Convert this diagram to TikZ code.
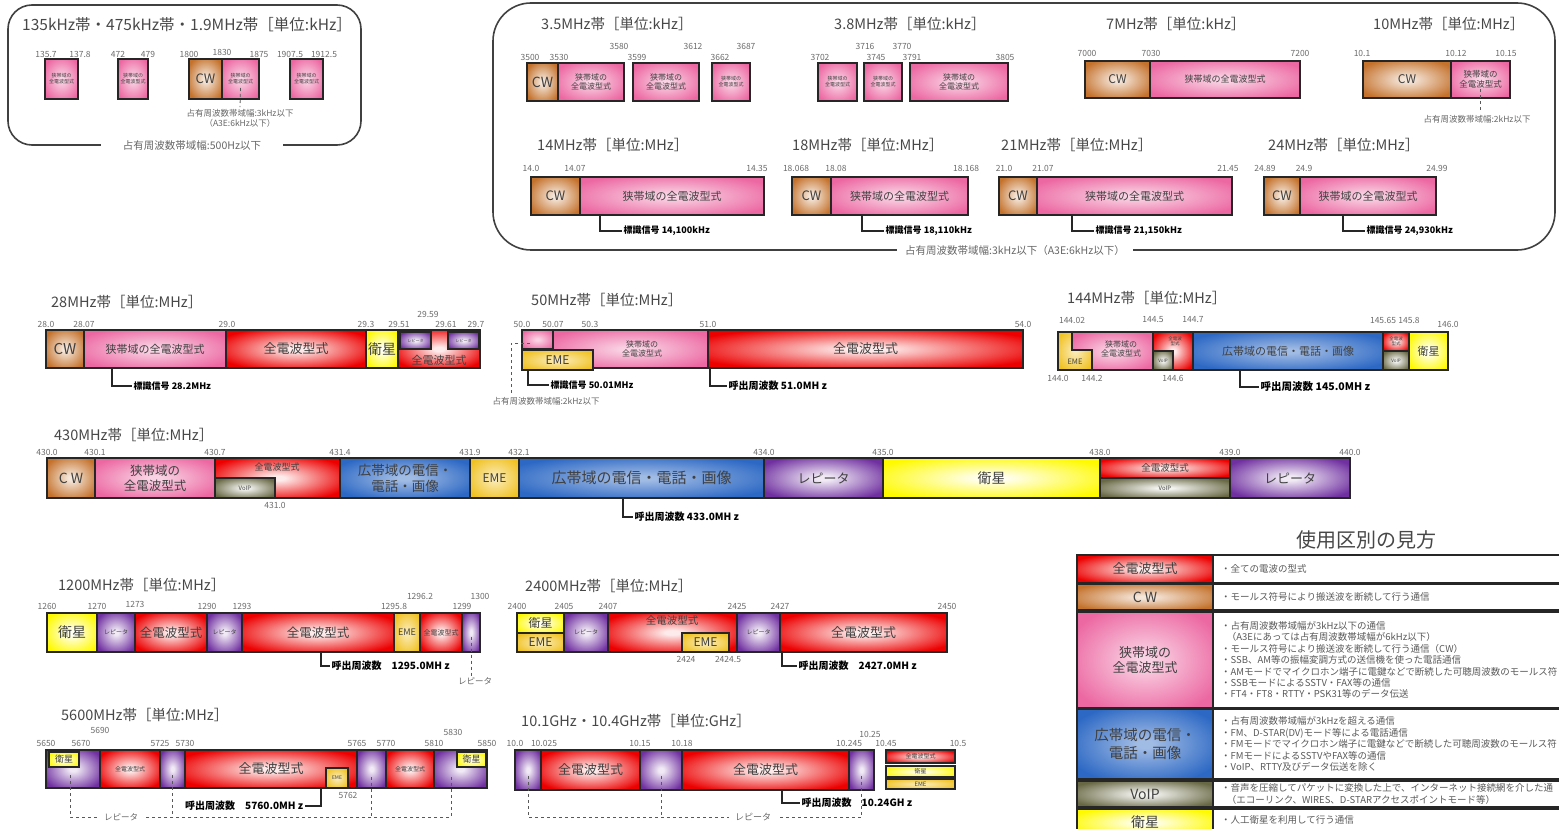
\documentclass[tikz,border=0pt]{standalone}
\usepackage{fontspec}
\setmainfont{Noto Sans CJK JP}
\usepackage{tikz}
\usetikzlibrary{
  positioning,
}
\definecolor{zen}{RGB}{236,0,0}
\definecolor{cwc}{RGB}{196,114,44}
\definecolor{nar}{RGB}{236,104,162}
\definecolor{wide}{RGB}{44,104,196}
\definecolor{rep}{RGB}{112,48,160}
\definecolor{sat}{RGB}{255,250,0}
\definecolor{eme}{RGB}{240,194,34}
\definecolor{voip}{RGB}{104,104,68}
\colorlet{zenin}{zen!8!white}
\colorlet{cwcin}{cwc!18!white}
\colorlet{narin}{nar!30!white}
\colorlet{widein}{wide!45!white}
\colorlet{repin}{rep!10!white}
\colorlet{satin}{sat!5!white}
\colorlet{emein}{eme!35!white}
\colorlet{voipin}{voip!8!white}
\makeatletter
\pgfdeclareradialshading[tikz@radial@inner,tikz@radial@outer]{glow}{\pgfpointorigin}{%
  color(0bp)=(tikz@radial@inner);
  color(3bp)=(tikz@radial@inner);
  color(30bp)=(tikz@radial@outer);
  color(50bp)=(tikz@radial@outer)}
\makeatother
\newcommand{\fs}[1]{\fontsize{#1}{\dimexpr #1pt*6/5\relax}\selectfont}
\tikzset{
  band/.style = {
    draw = black!85,
    line width = 1.1pt,
    inner color = #1in,
    outer color = #1,
    shading = glow,
    inner sep = 0pt,
    outer sep = 0pt,
    align = center,
    text = black!75
  },
  btxt/.style = {
    align = center,
    text = black!75,
    inner sep = 0pt
  },
  freq/.style = {
    font = \fs{8.5},
    text = black!58,
    inner sep = 0pt
  },
  ttl/.style = {
    font = \fs{14.5},
    text = black!72,
    anchor = west,
    inner sep = 0pt
  },
  memo/.style = {
    font = \bfseries\fs{10},
    anchor = west,
    inner sep = 1.5pt
  },
  note/.style = {
    font = \fs{8.5},
    text = black!60,
    align = center,
    inner sep = 1.5pt
  },
  ltxt/.style = {
    font = \fs{9.5},
    text = black!65,
    align = left,
    inner sep = 0pt
  },
  grp/.style = {
    draw = black!75,
    line width = 1.6pt,
    rounded corners = #1
  },
  con/.style = {
    draw = black!85,
    line width = 1.8pt
  },
  dline/.style = {
    draw = black!65,
    dashed,
    line width = .8pt
  },
  lrule/.style = {
    draw = black!85,
    line width = 1.4pt
  }
}
\newcommand{\band}[8][]{
  \node[band = #2, minimum width = #5-#3, minimum height = #6-#4,
    anchor = north west, #1] (#7) at (#3,#4) {#8};
}
\newcommand{\callout}[3]{
  \draw[con] ([xshift = #2pt]#1.south) |- (#3.west);
}

\begin{document}
\begin{tikzpicture}[x = 1pt, y = -1pt]
  \useasboundingbox (0,0) rectangle (1559,829);

  % 135kHz帯・475kHz帯・1.9MHz帯.
  \draw[grp = 24pt] (8,5) rectangle (361,145);
  \node[note, font = \fs{10.5}, fill = white, inner xsep = 22pt] (N1) at (192,146) {占有周波数帯域幅:500Hz以下};
  \node[ttl, font = \fs{15.5}] (T1) at (22,25) {135kHz帯・475kHz帯・1.9MHz帯［単位:kHz］};
  \band[font = \fs{5}]{nar}{45}{59}{78}{99}{B1}{狭帯域の\\全電波型式}
  \band[font = \fs{5}]{nar}{118}{59}{148}{99}{B2}{狭帯域の\\全電波型式}
  \band[font = \fs{13}]{cwc}{189}{59}{222}{99}{B3}{CW}
  \band[font = \fs{5}]{nar}{222}{59}{259}{99}{B4}{狭帯域の\\全電波型式}
  \band[font = \fs{5}]{nar}{290}{59}{323}{99}{B5}{狭帯域の\\全電波型式}
  \node[freq] (q1) at (46,54) {135.7};
  \node[freq] (q2) at (80,54) {137.8};
  \node[freq] (q3) at (118,54) {472};
  \node[freq] (q4) at (148,54) {479};
  \node[freq] (q5) at (189,54) {1800};
  \node[freq] (q6) at (222,52) {1830};
  \node[freq] (q7) at (259,54) {1875};
  \node[freq] (q8) at (290,54) {1907.5};
  \node[freq] (q9) at (324,54) {1912.5};
  \node[note] (N2) at (240,118) {占有周波数帯域幅:3kHz以下\\（A3E:6kHz以下）};
  \draw[dline] ([yshift = -9pt]B4.center) -- (N2.north);

  % 3.5MHz帯〜24MHz帯.
  \draw[grp = 38pt] (493,3) rectangle (1555,250);
  \node[note, font = \fs{10.5}, fill = white, inner xsep = 8pt] (N5) at (1015,251) {占有周波数帯域幅:3kHz以下（A3E:6kHz以下）};
  \node[ttl] (T2) at (541,24) {3.5MHz帯［単位:kHz］};
  \node[ttl] (T3) at (834,24) {3.8MHz帯［単位:kHz］};
  \node[ttl] (T4) at (1106,24) {7MHz帯［単位:kHz］};
  \node[ttl] (T5) at (1373,24) {10MHz帯［単位:MHz］};
  \band[font = \fs{14}]{cwc}{527}{63}{558}{101}{A1}{CW}
  \band[font = \fs{8}]{nar}{558}{63}{624}{101}{A2}{狭帯域の\\全電波型式}
  \band[font = \fs{8}]{nar}{633}{63}{699}{101}{A3}{狭帯域の\\全電波型式}
  \band[font = \fs{5}]{nar}{712}{63}{750}{101}{A4}{狭帯域の\\全電波型式}
  \band[font = \fs{5}]{nar}{818}{63}{857}{101}{A5}{狭帯域の\\全電波型式}
  \band[font = \fs{5}]{nar}{864}{63}{902}{101}{A6}{狭帯域の\\全電波型式}
  \band[font = \fs{8}]{nar}{910}{63}{1008}{101}{A7}{狭帯域の\\全電波型式}
  \band[font = \fs{12}]{cwc}{1085}{61}{1150}{98}{A8}{CW}
  \band[font = \fs{9}]{nar}{1150}{61}{1300}{98}{A9}{狭帯域の全電波型式}
  \band[font = \fs{12}]{cwc}{1363}{61}{1451}{98}{A10}{CW}
  \band[font = \fs{8.5}]{nar}{1451}{61}{1510}{98}{A11}{狭帯域の\\全電波型式}
  \node[freq] (q10) at (530,57) {3500};
  \node[freq] (q11) at (559,57) {3530};
  \node[freq] (q12) at (619,46) {3580};
  \node[freq] (q13) at (637,57) {3599};
  \node[freq] (q14) at (693,46) {3612};
  \node[freq] (q15) at (720,57) {3662};
  \node[freq] (q16) at (746,46) {3687};
  \node[freq] (q17) at (820,57) {3702};
  \node[freq] (q18) at (865,46) {3716};
  \node[freq] (q19) at (876,57) {3745};
  \node[freq] (q20) at (902,46) {3770};
  \node[freq] (q21) at (912,57) {3791};
  \node[freq] (q22) at (1005,57) {3805};
  \node[freq] (q23) at (1087,53) {7000};
  \node[freq] (q24) at (1151,53) {7030};
  \node[freq] (q25) at (1300,53) {7200};
  \node[freq] (q26) at (1362,53) {10.1};
  \node[freq] (q27) at (1456,53) {10.12};
  \node[freq] (q28) at (1506,53) {10.15};
  \node[note] (N3) at (1477,119) {占有周波数帯域幅:2kHz以下};
  \draw[dline] ([yshift = -10pt]A11.center) -- (A11.center |- N3.north);

  \node[ttl] (T6) at (537,145) {14MHz帯［単位:MHz］};
  \node[ttl] (T7) at (792,145) {18MHz帯［単位:MHz］};
  \node[ttl] (T8) at (1001,145) {21MHz帯［単位:MHz］};
  \node[ttl] (T9) at (1268,145) {24MHz帯［単位:MHz］};
  \band[font = \fs{13}]{cwc}{531}{177}{580}{215}{D1}{CW}
  \band[font = \fs{11}]{nar}{580}{177}{764}{215}{D2}{狭帯域の全電波型式}
  \band[font = \fs{13}]{cwc}{792}{177}{831}{215}{D3}{CW}
  \band[font = \fs{11}]{nar}{831}{177}{968}{215}{D4}{狭帯域の全電波型式}
  \band[font = \fs{13}]{cwc}{999}{177}{1037}{215}{D5}{CW}
  \band[font = \fs{11}]{nar}{1037}{177}{1232}{215}{D6}{狭帯域の全電波型式}
  \band[font = \fs{13}]{cwc}{1264}{177}{1300}{215}{D7}{CW}
  \band[font = \fs{11}]{nar}{1300}{177}{1436}{215}{D8}{狭帯域の全電波型式}
  \node[freq] (q29) at (531,168) {14.0};
  \node[freq] (q30) at (575,168) {14.07};
  \node[freq] (q31) at (757,168) {14.35};
  \node[freq] (q32) at (796,168) {18.068};
  \node[freq] (q33) at (836,168) {18.08};
  \node[freq] (q34) at (966,168) {18.168};
  \node[freq] (q35) at (1004,168) {21.0};
  \node[freq] (q36) at (1043,168) {21.07};
  \node[freq] (q37) at (1228,168) {21.45};
  \node[freq] (q38) at (1265,168) {24.89};
  \node[freq] (q39) at (1304,168) {24.9};
  \node[freq] (q40) at (1437,168) {24.99};
  \node[memo, font = \bfseries\fs{9}] (C1) at (622,231) {標識信号 14,100kHz};
  \node[memo, font = \bfseries\fs{9}] (C2) at (884,231) {標識信号 18,110kHz};
  \node[memo, font = \bfseries\fs{9}] (C3) at (1094,231) {標識信号 21,150kHz};
  \node[memo, font = \bfseries\fs{9}] (C4) at (1365,231) {標識信号 24,930kHz};
  \callout{D2}{-72}{C1}
  \callout{D4}{-37.5}{C2}
  \callout{D6}{-62.5}{C3}
  \callout{D8}{-25}{C4}

  % 28MHz帯.
  \node[ttl] (T10) at (51,302) {28MHz帯［単位:MHz］};
  \band[font = \fs{15}]{cwc}{46}{330}{84}{368}{E1}{CW}
  \band[font = \fs{11}]{nar}{84}{330}{226}{368}{E2}{狭帯域の全電波型式}
  \band[font = \fs{13}]{zen}{226}{330}{366}{368}{E3}{全電波型式}
  \band[font = \fs{14}]{sat}{366}{330}{398}{368}{E4}{衛星}
  \band{zen}{398}{330}{480}{368}{E5}{}
  \node[btxt, font = \fs{11}] (E5t) at (439,360) {全電波型式};
  \band[font = \fs{4}]{rep}{400}{332}{431}{349}{E6}{レピータ}
  \band[font = \fs{4}]{rep}{448}{332}{479}{349}{E7}{レピータ}
  \node[freq] (q41) at (46,324) {28.0};
  \node[freq] (q42) at (84,324) {28.07};
  \node[freq] (q43) at (227,324) {29.0};
  \node[freq] (q44) at (366,324) {29.3};
  \node[freq] (q45) at (399,324) {29.51};
  \node[freq] (q46) at (428,314) {29.59};
  \node[freq] (q47) at (446,324) {29.61};
  \node[freq] (q48) at (476,324) {29.7};
  \node[memo, font = \bfseries\fs{9}] (C5) at (132,386) {標識信号 28.2MHz};
  \callout{E2}{-43}{C5}

  % 50MHz帯.
  \node[ttl] (T11) at (531,300) {50MHz帯［単位:MHz］};
  \band{nar}{522}{330}{553}{349}{F1}{}
  \band{nar}{553}{330}{708}{368}{F2}{}
  \node[btxt, font = \fs{8}] (F2t) at (642,349) {狭帯域の\\全電波型式};
  \band[font = \fs{12}]{eme}{522}{350}{593}{370}{F3}{EME}
  \band[font = \fs{13}]{zen}{708}{330}{1023}{368}{F4}{全電波型式}
  \node[freq] (q49) at (522,324) {50.0};
  \node[freq] (q50) at (553,324) {50.07};
  \node[freq] (q51) at (590,324) {50.3};
  \node[freq] (q52) at (708,324) {51.0};
  \node[freq] (q53) at (1023,324) {54.0};
  \node[memo, font = \bfseries\fs{9}] (C6) at (549,385) {標識信号 50.01MHz};
  \node[memo] (C7) at (727,386) {呼出周波数 51.0MH z};
  \callout{F3}{-29.5}{C6}
  \callout{F4}{-155.5}{C7}
  \node[note] (N4) at (546,401) {占有周波数帯域幅:2kHz以下};
  \draw[dline] ([xshift = -7.5pt, yshift = -3.5pt]F1.center) -| ([xshift = -35pt]N4.north);

  % 144MHz帯.
  \node[ttl] (T12) at (1067,298) {144MHz帯［単位:MHz］};
  \draw[band = eme] (1058,332) -- (1072,332) -- (1072,350) -- (1092,350) -- (1092,370) -- (1058,370) -- cycle;
  \draw[band = nar] (1072,332) -- (1153,332) -- (1153,370) -- (1092,370) -- (1092,350) -- (1072,350) -- cycle;
  \node[btxt, font = \fs{7.5}] (G1t) at (1075,362) {EME};
  \node[btxt, font = \fs{8}] (G2t) at (1121,349) {狭帯域の\\全電波型式};
  \band{zen}{1153}{332}{1193}{370}{G3}{}
  \node[btxt, font = \fs{4.5}] (G3t) at (1175,341) {全電波\\型式};
  \band[font = \fs{4.5}]{voip}{1153}{351}{1173}{370}{G4}{VoIP}
  \band[font = \fs{11}]{wide}{1193}{332}{1383}{370}{G5}{広帯域の電信・電話・画像}
  \band[font = \fs{4.5}]{zen}{1383}{332}{1409}{351}{G6}{全電波\\型式}
  \band[font = \fs{4.5}]{voip}{1383}{351}{1409}{370}{G7}{VoIP}
  \band[font = \fs{11}]{sat}{1409}{332}{1448}{370}{G8}{衛星}
  \node[freq] (q54) at (1072,320) {144.02};
  \node[freq] (q55) at (1153,320) {144.5};
  \node[freq] (q56) at (1193,320) {144.7};
  \node[freq] (q57) at (1383,320) {145.65};
  \node[freq] (q58) at (1409,320) {145.8};
  \node[freq] (q59) at (1448,324) {146.0};
  \node[freq] (q60) at (1058,378) {144.0};
  \node[freq] (q61) at (1092,378) {144.2};
  \node[freq] (q62) at (1173,378) {144.6};
  \node[memo, font = \bfseries\fs{10.5}] (C8) at (1259,387) {呼出周波数 145.0MH z};
  \callout{G5}{-48}{C8}

  % 430MHz帯.
  \node[ttl] (T13) at (54,435) {430MHz帯［単位:MHz］};
  \band[font = \fs{14}]{cwc}{47}{458}{95}{498}{H1}{C W}
  \band[font = \fs{12.5}]{nar}{95}{458}{215}{498}{H2}{狭帯域の\\全電波型式}
  \band{zen}{215}{458}{340}{498}{H3}{}
  \node[btxt, font = \fs{9}] (H3t) at (277,467) {全電波型式};
  \band[font = \fs{6}]{voip}{215}{478}{275}{498}{H4}{VoIP}
  \band[font = \fs{13.5}]{wide}{340}{458}{470}{498}{H5}{広帯域の電信・\\電話・画像}
  \band[font = \fs{12}]{eme}{470}{458}{519}{498}{H6}{EME}
  \band[font = \fs{15}]{wide}{519}{458}{764}{498}{H7}{広帯域の電信・電話・画像}
  \band[font = \fs{13}]{rep}{764}{458}{883}{498}{H8}{レピータ}
  \band[font = \fs{14}]{sat}{883}{458}{1100}{498}{H9}{衛星}
  \band[font = \fs{9.5}]{zen}{1100}{458}{1230}{478}{H10}{全電波型式}
  \band[font = \fs{6}]{voip}{1100}{478}{1230}{498}{H11}{VoIP}
  \band[font = \fs{13}]{rep}{1230}{458}{1350}{498}{H12}{レピータ}
  \node[freq] (q63) at (47,452) {430.0};
  \node[freq] (q64) at (95,452) {430.1};
  \node[freq] (q65) at (215,452) {430.7};
  \node[freq] (q66) at (340,452) {431.4};
  \node[freq] (q67) at (470,452) {431.9};
  \node[freq] (q68) at (519,452) {432.1};
  \node[freq] (q69) at (764,452) {434.0};
  \node[freq] (q70) at (883,452) {435.0};
  \node[freq] (q71) at (1100,452) {438.0};
  \node[freq] (q72) at (1230,452) {439.0};
  \node[freq] (q73) at (1350,452) {440.0};
  \node[freq] (q74) at (275,505) {431.0};
  \node[memo] (C9) at (633,517) {呼出周波数 433.0MH z};
  \callout{H7}{-18.5}{C9}

  % 1200MHz帯.
  \node[ttl] (T14) at (58,585) {1200MHz帯［単位:MHz］};
  \band[font = \fs{14}]{sat}{47}{613}{97}{652}{I1}{衛星}
  \band[font = \fs{6}]{rep}{97}{613}{135}{652}{I2}{レピータ}
  \band[font = \fs{12.5}]{zen}{135}{613}{207}{652}{I3}{全電波型式}
  \band[font = \fs{6}]{rep}{207}{613}{242}{652}{I4}{レピータ}
  \band[font = \fs{12.5}]{zen}{242}{613}{394}{652}{I5}{全電波型式}
  \band[font = \fs{9}]{eme}{394}{613}{420}{652}{I6}{EME}
  \band[font = \fs{7}]{zen}{420}{613}{462}{652}{I7}{全電波型式}
  \band{rep}{462}{613}{480}{652}{I8}{}
  \node[freq] (q75) at (47,606) {1260};
  \node[freq] (q76) at (97,606) {1270};
  \node[freq] (q77) at (135,604) {1273};
  \node[freq] (q78) at (207,606) {1290};
  \node[freq] (q79) at (242,606) {1293};
  \node[freq] (q80) at (394,606) {1295.8};
  \node[freq] (q81) at (420,596) {1296.2};
  \node[freq] (q82) at (462,606) {1299};
  \node[freq] (q83) at (480,596) {1300};
  \node[memo] (C10) at (330,666) {呼出周波数　1295.0MH z};
  \callout{I5}{3}{C10}
  \node[note] (R1) at (475,681) {レピータ};
  \draw[dline] ([yshift = -4pt]I8.center) -- (I8.center |- R1.north);

  % 2400MHz帯.
  \node[ttl] (T15) at (525,586) {2400MHz帯［単位:MHz］};
  \band[font = \fs{12}]{sat}{517}{613}{564}{633}{J1}{衛星}
  \band[font = \fs{12}]{eme}{517}{633}{564}{652}{J2}{EME}
  \band[font = \fs{6}]{rep}{564}{613}{608}{652}{J3}{レピータ}
  \band{zen}{608}{613}{737}{652}{J4}{}
  \node[btxt, font = \fs{10.5}] (J4t) at (672,621) {全電波型式};
  \band[font = \fs{12}]{eme}{682}{633}{729}{652}{J5}{EME}
  \band[font = \fs{6}]{rep}{737}{613}{780}{652}{J6}{レピータ}
  \band[font = \fs{13}]{zen}{780}{613}{947}{652}{J7}{全電波型式}
  \node[freq] (q84) at (517,606) {2400};
  \node[freq] (q85) at (564,606) {2405};
  \node[freq] (q86) at (608,606) {2407};
  \node[freq] (q87) at (737,606) {2425};
  \node[freq] (q88) at (780,606) {2427};
  \node[freq] (q89) at (947,606) {2450};
  \node[freq] (q90) at (686,659) {2424};
  \node[freq] (q91) at (728,659) {2424.5};
  \node[memo] (C11) at (797,666) {呼出周波数　2427.0MH z};
  \callout{J7}{-81.5}{C11}

  % 5600MHz帯.
  \node[ttl] (T16) at (61,715) {5600MHz帯［単位:MHz］};
  \band{rep}{46}{750}{100}{788}{K1}{}
  \band[font = \fs{9}]{sat}{49}{752}{79}{767}{K2}{衛星}
  \band[font = \fs{6}]{zen}{100}{750}{160}{788}{K3}{全電波型式}
  \band{rep}{160}{750}{185}{788}{K4}{}
  \band[font = \fs{13}]{zen}{185}{750}{357}{788}{K5}{全電波型式}
  \band[font = \fs{5}]{eme}{326}{768}{348}{788}{K6}{EME}
  \band{rep}{357}{750}{386}{788}{K7}{}
  \band[font = \fs{6}]{zen}{386}{750}{434}{788}{K8}{全電波型式}
  \band{rep}{434}{750}{487}{788}{K9}{}
  \band[font = \fs{9}]{sat}{457}{752}{486}{767}{K10}{衛星}
  \node[freq] (q92) at (46,743) {5650};
  \node[freq] (q93) at (81,743) {5670};
  \node[freq] (q94) at (100,730) {5690};
  \node[freq] (q95) at (160,743) {5725};
  \node[freq] (q96) at (185,743) {5730};
  \node[freq] (q97) at (357,743) {5765};
  \node[freq] (q98) at (386,743) {5770};
  \node[freq] (q99) at (434,743) {5810};
  \node[freq] (q100) at (453,732) {5830};
  \node[freq] (q101) at (487,743) {5850};
  \node[freq] (q102) at (348,795) {5762};
  \node[memo, anchor = east] (C12) at (305,806) {呼出周波数　5760.0MH z};
  \draw[con] ([xshift = 50pt]K5.south) |- (C12.east);
  \node[note, inner xsep = 6pt] (R2) at (121,817) {レピータ};
  \draw[dline] ([xshift = -3pt, yshift = -6pt]K1.center) |- (R2.west);
  \draw[dline] ([yshift = -6pt]K4.center) -- (K4.center |- R2.east);
  \draw[dline] ([yshift = -8pt]K7.center) -- (K7.center |- R2.east);
  \draw[dline] ([xshift = -9.5pt, yshift = -8pt]K9.center) |- (R2.east);

  % 10.1GHz・10.4GHz帯.
  \node[ttl] (T17) at (521,721) {10.1GHz・10.4GHz帯［単位:GHz］};
  \band{rep}{515}{750}{541}{790}{M1}{}
  \band[font = \fs{13}]{zen}{541}{750}{640}{790}{M2}{全電波型式}
  \band{rep}{640}{750}{682}{790}{M3}{}
  \band[font = \fs{13}]{zen}{682}{750}{849}{790}{M4}{全電波型式}
  \band{rep}{849}{750}{874}{790}{M5}{}
  \band[font = \fs{6}]{zen}{886}{750}{955}{763}{M6}{全電波型式}
  \band[font = \fs{6}]{sat}{886}{766}{955}{777}{M7}{衛星}
  \band[font = \fs{6}]{eme}{886}{779}{955}{789}{M8}{EME}
  \node[freq] (q103) at (515,743) {10.0};
  \node[freq] (q104) at (544,743) {10.025};
  \node[freq] (q105) at (640,743) {10.15};
  \node[freq] (q106) at (682,743) {10.18};
  \node[freq] (q107) at (849,743) {10.245};
  \node[freq] (q108) at (870,734) {10.25};
  \node[freq] (q109) at (886,743) {10.45};
  \node[freq] (q110) at (958,743) {10.5};
  \node[memo] (C13) at (800,803) {呼出周波数　10.24GH z};
  \callout{M4}{16.5}{C13}
  \node[note, font = \fs{9}, inner xsep = 6pt] (R3) at (753,817) {レピータ};
  \draw[dline] ([yshift = -6pt]M1.center) |- (R3.west);
  \draw[dline] ([yshift = -6pt]M3.center) -- (M3.center |- R3.west);
  \draw[dline] ([yshift = -6pt]M5.center) |- (R3.east);

  % 使用区別の見方.
  \node[font = \fs{20}, text = black!72] (LT) at (1366,540) {使用区別の見方};
  \band[font = \fs{13}, line width = 2pt]{zen}{1077}{555}{1213}{583}{L1}{全電波型式}
  \band[font = \fs{14}, line width = 2pt]{cwc}{1077}{584}{1213}{610}{L2}{C W}
  \band[font = \fs{13}, line width = 2pt]{nar}{1077}{612}{1213}{708}{L3}{狭帯域の\\全電波型式}
  \band[font = \fs{14.5}, line width = 2pt]{wide}{1077}{709}{1213}{779}{L4}{広帯域の電信・\\電話・画像}
  \band[font = \fs{14}, line width = 2pt]{voip}{1077}{781}{1213}{807}{L5}{VoIP}
  \band[font = \fs{14}, line width = 2pt]{sat}{1077}{809}{1213}{836}{L6}{衛星}
  \draw[lrule] (L1.north east) -- ++(346,0);
  \draw[lrule] (L1.south east) -- ++(346,0);
  \draw[lrule] (L2.north east) -- ++(346,0);
  \draw[lrule] (L2.south east) -- ++(346,0);
  \draw[lrule] (L3.north east) -- ++(346,0);
  \draw[lrule] (L3.south east) -- ++(346,0);
  \draw[lrule] (L4.north east) -- ++(346,0);
  \draw[lrule] (L4.south east) -- ++(346,0);
  \draw[lrule] (L5.north east) -- ++(346,0);
  \draw[lrule] (L5.south east) -- ++(346,0);
  \draw[lrule] (L6.north east) -- ++(346,0);
  \node[ltxt] (X1) [right = 8pt of L1] {・全ての電波の型式};
  \node[ltxt] (X2) [right = 8pt of L2] {・モールス符号により搬送波を断続して行う通信};
  \node[ltxt] (X3) [right = 8pt of L3] {・占有周波数帯域幅が3kHz以下の通信\\
    \hspace*{.6em}（A3Eにあっては占有周波数帯域幅が6kHz以下）\\
    ・モールス符号により搬送波を断続して行う通信（CW）\\
    ・SSB、AM等の振幅変調方式の送信機を使った電話通信\\
    ・AMモードでマイクロホン端子に電鍵などで断続した可聴周波数のモールス符\\
    ・SSBモードによるSSTV・FAX等の通信\\
    ・FT4・FT8・RTTY・PSK31等のデータ伝送};
  \node[ltxt] (X4) [right = 8pt of L4] {・占有周波数帯域幅が3kHzを超える通信\\
    ・FM、D-STAR(DV)モード等による電話通信\\
    ・FMモードでマイクロホン端子に電鍵などで断続した可聴周波数のモールス符\\
    ・FMモードによるSSTVやFAX等の通信\\
    ・VoIP、RTTY及びデータ伝送を除く};
  \node[ltxt] (X5) [right = 8pt of L5] {・音声を圧縮してパケットに変換した上で、インターネット接続網を介した通\\
    \hspace*{.6em}（エコーリンク、WIRES、D-STARアクセスポイントモード等）};
  \node[ltxt] (X6) [right = 8pt of L6, yshift = 3pt] {・人工衛星を利用して行う通信};
\end{tikzpicture}
\end{document}
